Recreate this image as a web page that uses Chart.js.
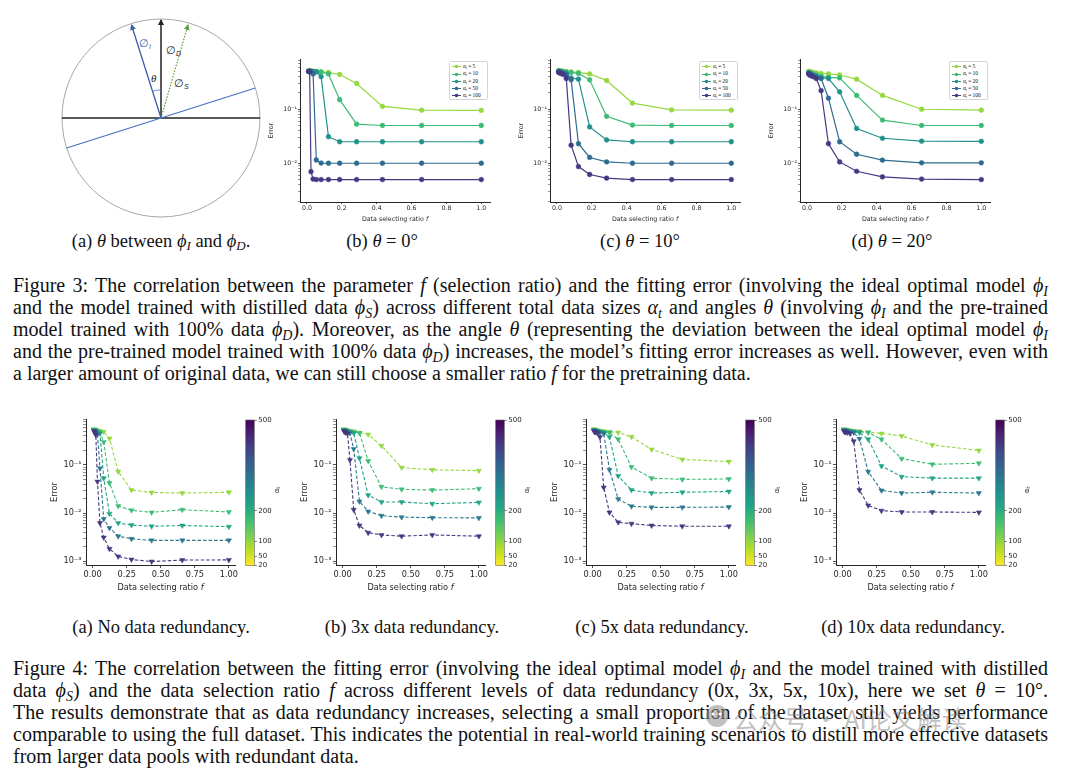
<!DOCTYPE html>
<html>
<head>
<meta charset="utf-8">
<script src="https://cdn.jsdelivr.net/npm/chart.js@4.4.1/dist/chart.umd.min.js"></script>
<style>
  body { margin:0; width:1080px; height:776px; background:#fff; position:relative; overflow:hidden;
         font-family:"Liberation Serif","Times New Roman",serif; color:#111; }
  canvas, .abs { position:absolute; }
  .cap { position:absolute; font-size:18.5px; white-space:nowrap; transform:translate(-50%,-50%); }
  .para { position:absolute; left:13px; width:1035px; font-size:20px; line-height:22px; }
  .para div { white-space:nowrap; text-align:justify; text-align-last:justify; height:22px; }
  .para div.end { text-align-last:left; }
  sub { font-size:0.7em; vertical-align:-0.25em; line-height:0; }
  .xt { position:absolute; font-family:"DejaVu Sans",sans-serif; color:#262626; white-space:nowrap; transform:translate(-50%,-50%); }
  .leg { position:absolute; width:39px; height:39px; border:0.6px solid #d4d4d4; border-radius:1.5px; background:#fff;
         font-size:5.4px; padding-top:1px; box-sizing:border-box; }
  .leg div { height:7.3px; line-height:7.3px; white-space:nowrap; }
  .leg svg { vertical-align:middle; margin:0 2px 0 2px; }
  .cbl { position:absolute; font-family:"DejaVu Sans",sans-serif; font-size:7px; color:#262626; transform:translate(-50%,-50%) rotate(-90deg); }
  .wm { position:absolute; left:733px; top:700px; font-family:"Noto Sans CJK SC",sans-serif; font-size:25px;
        color:rgba(140,140,140,0.55); white-space:nowrap; }
</style>
</head>
<body>

<svg class="abs" style="left:0;top:0" width="280" height="230">
  <defs>
    <marker id="hk" markerWidth="6" markerHeight="6" refX="5" refY="3" orient="auto" markerUnits="userSpaceOnUse">
      <path d="M0,0 L6,3 L0,6 z" fill="#222"/></marker>
    <marker id="hb" markerWidth="6" markerHeight="6" refX="5" refY="3" orient="auto" markerUnits="userSpaceOnUse">
      <path d="M0,0 L6,3 L0,6 z" fill="#3a5fa8"/></marker>
    <marker id="hg" markerWidth="6" markerHeight="6" refX="5" refY="3" orient="auto" markerUnits="userSpaceOnUse">
      <path d="M0,0 L6,3 L0,6 z" fill="#5a9e3a"/></marker>
  </defs>
  <circle cx="161" cy="118" r="99" fill="none" stroke="#a8a8a8" stroke-width="1"/>
  <line x1="62" y1="118" x2="260" y2="118" stroke="#222" stroke-width="1.5"/>
  <line x1="66.7" y1="148" x2="255.3" y2="88" stroke="#4472c4" stroke-width="1.2"/>
  <line x1="161" y1="118" x2="161" y2="20" stroke="#222" stroke-width="1.5" marker-end="url(#hk)"/>
  <line x1="161" y1="118" x2="131.5" y2="25" stroke="#3a5fa8" stroke-width="1.3" marker-end="url(#hb)"/>
  <line x1="161" y1="118" x2="188" y2="25" stroke="#5a9e3a" stroke-width="1.2" stroke-dasharray="1.5 1.5" marker-end="url(#hg)"/>
  <path d="M161 90 A28 28 0 0 0 152.5 91.3" fill="none" stroke="#4472c4" stroke-width="0.8"/>
  <text x="139" y="47" font-family="Liberation Sans" font-size="11" fill="#3a5fa8">∅<tspan font-size="7" dy="2" font-style="italic">I</tspan></text>
  <text x="166" y="54" font-family="Liberation Sans" font-size="11" fill="#222">∅<tspan font-size="7" dy="2" font-style="italic">D</tspan></text>
  <text x="151" y="82" font-family="Liberation Serif" font-size="11" font-style="italic" fill="#222">θ</text>
  <text x="174" y="87" font-family="Liberation Sans" font-size="11" fill="#222">∅<tspan font-size="7" dy="2" font-style="italic">S</tspan></text>
</svg>

<div class="cap" style="left:161px;top:241px">(a) <i>θ</i> between <i>ϕ<sub>I</sub></i> and <i>ϕ<sub>D</sub></i>.</div>
<div class="cap" style="left:382px;top:241px">(b) <i>θ</i> = 0°</div>
<div class="cap" style="left:640px;top:241px">(c) <i>θ</i> = 10°</div>
<div class="cap" style="left:892px;top:241px">(d) <i>θ</i> = 20°</div>

<div class="para" style="top:274px">
  <div>Figure 3: The correlation between the parameter <i>f</i> (selection ratio) and the fitting error (involving the ideal optimal model <i>ϕ<sub>I</sub></i></div>
  <div>and the model trained with distilled data <i>ϕ<sub>S</sub></i>) across different total data sizes <i>α<sub>t</sub></i> and angles <i>θ</i> (involving <i>ϕ<sub>I</sub></i> and the pre-trained</div>
  <div>model trained with 100% data <i>ϕ<sub>D</sub></i>). Moreover, as the angle <i>θ</i> (representing the deviation between the ideal optimal model <i>ϕ<sub>I</sub></i></div>
  <div>and the pre-trained model trained with 100% data <i>ϕ<sub>D</sub></i>) increases, the model’s fitting error increases as well. However, even with</div>
  <div class="end">a larger amount of original data, we can still choose a smaller ratio <i>f</i> for the pretraining data.</div>
</div>

<div class="cap" style="left:161px;top:627px">(a) No data redundancy.</div>
<div class="cap" style="left:412px;top:627px">(b) 3x data redundancy.</div>
<div class="cap" style="left:662px;top:627px">(c) 5x data redundancy.</div>
<div class="cap" style="left:913px;top:627px">(d) 10x data redundancy.</div>

<div class="para" style="top:657px">
  <div>Figure 4: The correlation between the fitting error (involving the ideal optimal model <i>ϕ<sub>I</sub></i> and the model trained with distilled</div>
  <div>data <i>ϕ<sub>S</sub></i>) and the data selection ratio <i>f</i> across different levels of data redundancy (0x, 3x, 5x, 10x), here we set <i>θ</i> = 10°.</div>
  <div>The results demonstrate that as data redundancy increases, selecting a small proportion of the dataset still yields performance</div>
  <div>comparable to using the full dataset. This indicates the potential in real-world training scenarios to distill more effective datasets</div>
  <div class="end">from larger data pools with redundant data.</div>
</div>

<svg class="abs" style="left:704px;top:703px" width="26" height="26">
  <circle cx="13" cy="13" r="11" fill="rgba(140,140,140,0.55)"/>
  <circle cx="9" cy="11" r="1.6" fill="#fff"/><circle cx="16" cy="11" r="1.6" fill="#fff"/>
</svg>
<div class="wm">公众号 · AI论文解读</div>

<script>
const ratios = [0.01, 0.0152, 0.0231, 0.0351, 0.0534, 0.0811, 0.1233, 0.1874, 0.2848, 0.4329, 0.6579, 1.0];
const alphas = [5, 10, 20, 50, 100];

// Figure 3, error per alpha_t (rows follow alphas)
const errTheta0 = [
  [0.52, 0.51, 0.51, 0.5, 0.5, 0.49, 0.48, 0.44, 0.3, 0.113, 0.096, 0.095],
  [0.5, 0.5, 0.5, 0.5, 0.5, 0.49, 0.45, 0.15, 0.053, 0.05, 0.05, 0.05],
  [0.5, 0.5, 0.5, 0.5, 0.49, 0.4, 0.031, 0.025, 0.025, 0.025, 0.025, 0.025],
  [0.5, 0.5, 0.5, 0.45, 0.0115, 0.0101, 0.01, 0.01, 0.01, 0.01, 0.01, 0.01],
  [0.5, 0.5, 0.007, 0.0051, 0.005, 0.005, 0.005, 0.005, 0.005, 0.005, 0.005, 0.005]
];
const errTheta10 = [
  [0.52, 0.51, 0.51, 0.5, 0.5, 0.49, 0.48, 0.45, 0.34, 0.13, 0.097, 0.096],
  [0.51, 0.5, 0.5, 0.5, 0.49, 0.48, 0.46, 0.35, 0.074, 0.051, 0.05, 0.05],
  [0.5, 0.5, 0.49, 0.48, 0.46, 0.38, 0.36, 0.047, 0.027, 0.025, 0.025, 0.025],
  [0.5, 0.49, 0.48, 0.46, 0.44, 0.35, 0.023, 0.0128, 0.0106, 0.01, 0.01, 0.01],
  [0.48, 0.47, 0.46, 0.44, 0.37, 0.0216, 0.0087, 0.0062, 0.0053, 0.005, 0.005, 0.005]
];
const errTheta20 = [
  [0.5, 0.5, 0.49, 0.48, 0.47, 0.46, 0.45, 0.43, 0.36, 0.18, 0.1, 0.096],
  [0.48, 0.47, 0.46, 0.45, 0.43, 0.41, 0.39, 0.38, 0.18, 0.063, 0.05, 0.05],
  [0.47, 0.46, 0.45, 0.43, 0.41, 0.38, 0.37, 0.21, 0.044, 0.029, 0.0256, 0.0255],
  [0.46, 0.45, 0.43, 0.41, 0.39, 0.37, 0.16, 0.025, 0.0147, 0.0114, 0.0102, 0.0102],
  [0.45, 0.43, 0.42, 0.4, 0.37, 0.22, 0.023, 0.0106, 0.0071, 0.0056, 0.0051, 0.005]
];

// Figure 4, theta = 10°, one row per data size
const errRed0 = [
  [0.55, 0.54, 0.53, 0.52, 0.51, 0.49, 0.355, 0.073, 0.03, 0.0268, 0.026, 0.027],
  [0.54, 0.53, 0.52, 0.5, 0.48, 0.3, 0.042, 0.014, 0.0114, 0.0103, 0.0117, 0.0105],
  [0.53, 0.52, 0.5, 0.48, 0.45, 0.053, 0.0097, 0.0062, 0.0056, 0.0053, 0.0055, 0.0052],
  [0.52, 0.5, 0.47, 0.44, 0.085, 0.0075, 0.0049, 0.0033, 0.0029, 0.0027, 0.0027, 0.0027],
  [0.5, 0.47, 0.42, 0.045, 0.0062, 0.0031, 0.0018, 0.00125, 0.00108, 0.00098, 0.00105, 0.00106]
];
const errRed3 = [
  [0.55, 0.54, 0.53, 0.52, 0.51, 0.5, 0.47, 0.43, 0.25, 0.088, 0.079, 0.076],
  [0.54, 0.53, 0.52, 0.51, 0.5, 0.48, 0.46, 0.12, 0.035, 0.031, 0.03, 0.032],
  [0.53, 0.52, 0.51, 0.5, 0.48, 0.46, 0.138, 0.0235, 0.017, 0.0169, 0.0156, 0.0166],
  [0.52, 0.51, 0.5, 0.48, 0.46, 0.214, 0.0174, 0.0108, 0.0088, 0.0082, 0.008, 0.0079],
  [0.5, 0.49, 0.47, 0.45, 0.127, 0.0117, 0.0055, 0.0039, 0.0035, 0.0033, 0.0035, 0.0033]
];
const errRed5 = [
  [0.55, 0.54, 0.53, 0.52, 0.51, 0.5, 0.49, 0.47, 0.385, 0.21, 0.13, 0.117],
  [0.54, 0.53, 0.52, 0.51, 0.5, 0.49, 0.47, 0.34, 0.09, 0.053, 0.05, 0.051],
  [0.53, 0.52, 0.51, 0.5, 0.49, 0.47, 0.38, 0.059, 0.03, 0.026, 0.027, 0.028],
  [0.52, 0.51, 0.5, 0.49, 0.47, 0.45, 0.079, 0.0195, 0.0138, 0.0131, 0.0131, 0.0133],
  [0.5, 0.49, 0.48, 0.46, 0.38, 0.034, 0.0103, 0.0064, 0.006, 0.0055, 0.0053, 0.0053]
];
const errRed10 = [
  [0.55, 0.54, 0.54, 0.53, 0.52, 0.51, 0.5, 0.48, 0.45, 0.4, 0.26, 0.2],
  [0.54, 0.53, 0.53, 0.52, 0.51, 0.5, 0.49, 0.47, 0.34, 0.135, 0.103, 0.108],
  [0.53, 0.52, 0.52, 0.51, 0.5, 0.49, 0.47, 0.34, 0.095, 0.057, 0.053, 0.053],
  [0.52, 0.51, 0.51, 0.5, 0.49, 0.47, 0.35, 0.072, 0.0295, 0.026, 0.027, 0.026],
  [0.5, 0.49, 0.48, 0.47, 0.45, 0.31, 0.03, 0.0144, 0.0112, 0.0105, 0.0105, 0.0103]
];

const topXTicks = [0, 0.2, 0.4, 0.6, 0.8, 1.0];
const botXTicks = [0, 0.25, 0.5, 0.75, 1.0];
const cbarTicks = [20, 50, 100, 200, 500];

const topColors = ['#95d840', '#3cbb75', '#21918c', '#2f6b8e', '#443983'];
const botColors = ['#94d840', '#3cbc75', '#20a486', '#2a788e', '#453781'];
const viridis = ['#440154', '#482475', '#414487', '#355f8d', '#2a788e', '#21918c', '#22a884', '#44bf70', '#7ad151', '#bddf26', '#fde725'];
const INK = '#262626';

const SUP = { '-': '⁻', '0': '⁰', '1': '¹', '2': '²', '3': '³' };
function sup(v) {
  const e = Math.round(Math.log10(v));
  return '10' + String(e).split('').map(c => SUP[c]).join('');
}

function logTicks(min, max) {
  const out = [];
  for (let e = Math.floor(Math.log10(min)); e <= 0; e++)
    for (let m = 1; m < 10; m++) {
      const v = m * Math.pow(10, e);
      if (v >= min && v <= max) out.push({ value: v, major: m === 1 });
    }
  return out;
}

function addCanvas(box) {
  const cv = document.createElement('canvas');
  cv.width = box.w; cv.height = box.h;
  cv.style.left = box.x + 'px'; cv.style.top = box.y + 'px';
  document.body.appendChild(cv);
  return cv;
}

function errorChart(box, area, rows, colors, look) {
  const cv = addCanvas(box);
  const font = { family: 'DejaVu Sans', size: look.font };
  new Chart(cv, {
    type: 'scatter',
    data: {
      datasets: rows.map((vals, i) => ({
        data: ratios.map((x, j) => ({ x, y: vals[j] })),
        showLine: true,
        borderColor: colors[i],
        backgroundColor: colors[i],
        borderWidth: look.lineWidth,
        borderDash: look.dash,
        pointStyle: look.marker,
        rotation: look.rotation,
        pointRadius: look.radius,
        pointBorderWidth: 0.5,
        pointBorderColor: colors[i],
        order: rows.length - i
      }))
    },
    options: {
      responsive: false, animation: false, devicePixelRatio: 1,
      layout: { padding: { left: 0, top: area.t - box.y, right: box.x + box.w - area.r, bottom: 0 } },
      plugins: { legend: { display: false }, tooltip: { enabled: false } },
      scales: {
        x: {
          type: 'linear', min: look.xRange[0], max: look.xRange[1],
          afterBuildTicks: s => { s.ticks = look.xTicks.map(v => ({ value: v })); },
          afterFit: s => { s.height = box.y + box.h - area.b; },
          ticks: { callback: v => v.toFixed(look.xDigits), font, color: INK, padding: look.pad, maxRotation: 0, autoSkip: false },
          grid: { drawOnChartArea: false, tickLength: look.tick, tickColor: INK, tickWidth: 0.8 },
          border: { color: INK, width: 1 }
        },
        y: {
          type: 'logarithmic', min: look.yRange[0], max: look.yRange[1],
          afterBuildTicks: s => { s.ticks = logTicks(look.yRange[0], look.yRange[1]); },
          afterFit: s => { s.width = area.l - box.x; },
          ticks: { callback: (v, i, t) => t[i].major ? sup(v) : '', font, color: INK, padding: look.pad, autoSkip: false },
          grid: { drawOnChartArea: false, tickLength: look.tick, tickColor: INK,
                  tickWidth: c => (c.tick && c.tick.major) ? 0.8 : 0.5 },
          border: { color: INK, width: 1 },
          title: { display: true, text: 'Error', font, color: INK, padding: { top: look.titlePad, bottom: 0 } }
        }
      }
    }
  });
  const xt = document.createElement('div');
  xt.className = 'xt';
  xt.style.fontSize = look.font + 'px';
  xt.style.left = (area.l + area.r) / 2 + 'px';
  xt.style.top = look.xTitleY + 'px';
  xt.innerHTML = 'Data selecting ratio <i>f</i>';
  document.body.appendChild(xt);
}

function legendBox(x, y) {
  const el = document.createElement('div');
  el.className = 'leg';
  el.style.left = x + 'px'; el.style.top = y + 'px';
  el.innerHTML = alphas.map((a, i) =>
    `<div><svg width="9" height="5"><line x1="0" y1="2.5" x2="9" y2="2.5" stroke="${topColors[i]}" stroke-width="1"/>` +
    `<circle cx="4.5" cy="2.5" r="1.8" fill="${topColors[i]}"/></svg>α<sub>t</sub> = ${a}</div>`).join('');
  document.body.appendChild(el);
}

function colorbar(box, area) {
  const cv = addCanvas(box);
  new Chart(cv, {
    type: 'scatter',
    data: { datasets: [] },
    options: {
      responsive: false, animation: false, devicePixelRatio: 1,
      layout: { padding: { left: area.l - box.x, top: area.t - box.y, right: 0, bottom: box.y + box.h - area.b } },
      plugins: { legend: { display: false }, tooltip: { enabled: false } },
      scales: {
        x: { display: false, min: 0, max: 1 },
        y: {
          position: 'right', min: 20, max: 500,
          afterBuildTicks: s => { s.ticks = cbarTicks.map(v => ({ value: v })); },
          afterFit: s => { s.width = box.x + box.w - area.r; },
          ticks: { font: { family: 'DejaVu Sans', size: 7 }, color: INK, padding: 1.5, autoSkip: false },
          grid: { drawOnChartArea: false, tickLength: 2.5, tickColor: INK, tickWidth: 0.6 },
          border: { display: false }
        }
      }
    },
    plugins: [{
      id: 'gradient',
      beforeDatasetsDraw(c) {
        const { ctx, chartArea: a } = c;
        const g = ctx.createLinearGradient(0, a.top, 0, a.bottom);
        viridis.forEach((col, i) => g.addColorStop(i / (viridis.length - 1), col));
        ctx.save();
        ctx.fillStyle = g;
        ctx.fillRect(a.left, a.top, a.right - a.left, a.bottom - a.top);
        ctx.strokeStyle = '#666';
        ctx.lineWidth = 0.6;
        ctx.strokeRect(a.left, a.top, a.right - a.left, a.bottom - a.top);
        ctx.restore();
      }
    }]
  });
  const lab = document.createElement('div');
  lab.className = 'cbl';
  lab.style.left = (area.r + 23) + 'px';
  lab.style.top = '490px';
  lab.innerHTML = 'α<sub>t</sub>';
  document.body.appendChild(lab);
}

const topLook = {
  xRange: [-0.04, 1.05], yRange: [0.00192, 0.85], xTicks: topXTicks, xDigits: 1,
  font: 6.3, pad: 1, tick: 2, titlePad: 6, xTitleY: 218,
  lineWidth: 1.2, dash: [], marker: 'circle', rotation: 0, radius: 2.4
};
const botLook = {
  xRange: [-0.049, 1.045], yRange: [0.00083, 0.9], xTicks: botXTicks, xDigits: 2,
  font: 8.2, pad: 1.5, tick: 3, titlePad: 5, xTitleY: 587,
  lineWidth: 1.1, dash: [3.5, 2], marker: 'triangle', rotation: 180, radius: 3
};

[errTheta0, errTheta10, errTheta20].forEach((rows, k) => {
  const dx = 250 * k;
  errorChart({ x: 262 + dx, y: 50, w: 235, h: 165 }, { l: 300 + dx, t: 59, r: 490 + dx, b: 202 }, rows, topColors, topLook);
  legendBox(449 + dx, 61);
});

[errRed0, errRed3, errRed5, errRed10].forEach((rows, k) => {
  const dx = 250 * k;
  errorChart({ x: 45 + dx, y: 410, w: 200, h: 175 }, { l: 86 + dx, t: 419, r: 235 + dx, b: 565 }, rows, botColors, botLook);
  colorbar({ x: 243 + dx, y: 410, w: 42, h: 162 }, { l: 245.7 + dx, t: 420, r: 254.3 + dx, b: 565.5 });
});
</script>
</body>
</html>
